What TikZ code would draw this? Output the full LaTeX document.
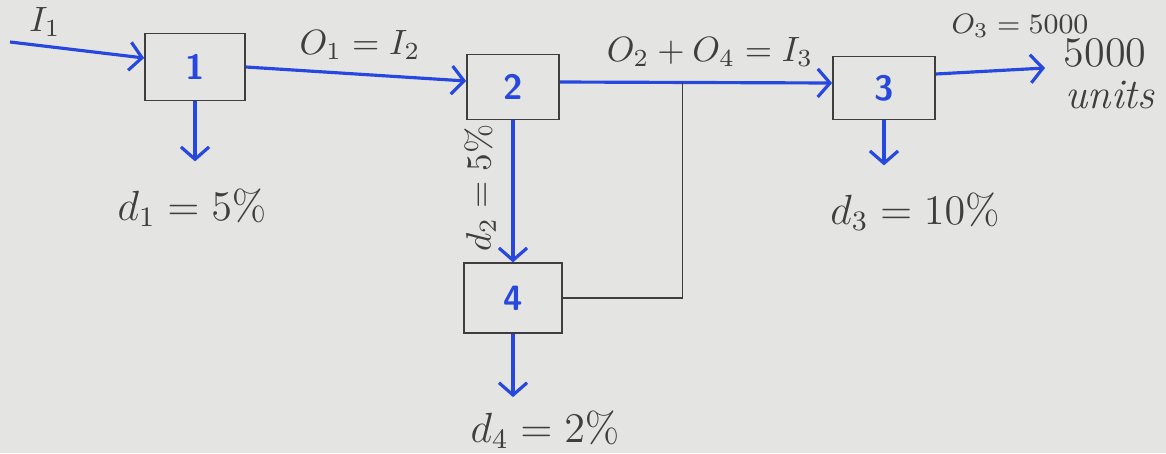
\documentclass[tikz,border=0pt]{standalone}
\usepackage{amsmath}
\usepackage{xcolor}
\usepackage{tikz}
\usetikzlibrary{arrows.meta,positioning,calc}

\definecolor{penblue}{RGB}{38,72,222}
\definecolor{ink}{RGB}{62,62,62}
\definecolor{paper}{RGB}{228,228,226}

\begin{document}
\begin{tikzpicture}[
  box/.style={draw=ink,line width=0.5pt,minimum width=#1,inner sep=0pt,
              font=\sffamily\bfseries,text=penblue},
  box/.default=1cm,
  flow/.style={->,penblue,line width=0.9pt},
  lab/.style={text=ink,font=\normalsize,inner sep=1pt},
  >={Straight Barb[length=3.5pt,width=8pt,line width=0.9pt]}]
\fill[paper] (0,0) rectangle (11.66,-4.53);
\useasboundingbox (0,0) rectangle (11.66,-4.53);
\node[box=1.0cm,minimum height=0.67cm] (b1) at (1.95,-0.67) {1};
\node[box=0.92cm,minimum height=0.65cm] (b2) at (5.13,-0.87) {2};
\node[box=1.02cm,minimum height=0.63cm] (b3) at (8.84,-0.88) {3};
\node[box=0.98cm,minimum height=0.70cm,below=1.42cm of b2] (b4) {4};
% free ends
\coordinate (src) at (0.1,-0.42);
\coordinate (snk) at (10.45,-0.68);
\coordinate[below=0.6cm of b1] (e1);
\coordinate[below=0.45cm of b3] (e3);
\coordinate[below=0.63cm of b4] (e4);
\coordinate (jn) at ($(b2.east)!0.45!(b3.west)$);
% flows
\draw[flow] (src) -- ([yshift=0.09cm]b1.west);
\draw[flow] (b1.east) -- ([yshift=0.06cm]b2.west);
\draw[flow] ([yshift=0.05cm]b2.east) -- ([yshift=0.05cm]b3.west);
\draw[flow] ([yshift=0.14cm]b3.east) -- (snk);
\draw[flow] (b1.south) -- (e1);
\draw[flow] (b2.south) -- (b4.north);
\draw[flow] (b3.south) -- (e3);
\draw[flow] (b4.south) -- (e4);
\draw[ink,line width=0.5pt] (b4.east) -| ([yshift=0.05cm]jn);
% labels
\node[lab] (tI1) at (0.45,-0.22) {$I_1$};
\node[lab] (t12) at (3.6,-0.45) {$O_1 = I_2$};
\node[lab] (t23) at (7.1,-0.52) {$O_2 + O_4 = I_3$};
\node[lab,font=\footnotesize] (t3o) at (10.2,-0.26) {$O_3 = 5000$};
\node[lab,font=\large] (t5k) at (11.05,-0.53) {5000};
\node[lab,font=\large\itshape] (tunit) at (11.1,-0.95) {units};
\node[lab,font=\large] (td1) at (1.92,-2.08) {$d_1 = 5\%$};
\node[lab,rotate=90] (td2) at (4.8,-1.88) {$d_2 = 5\%$};
\node[lab,font=\large] (td3) at (9.15,-2.12) {$d_3 = 10\%$};
\node[lab,font=\large] (td4) at (5.45,-4.3) {$d_4 = 2\%$};
\end{tikzpicture}
\end{document}
